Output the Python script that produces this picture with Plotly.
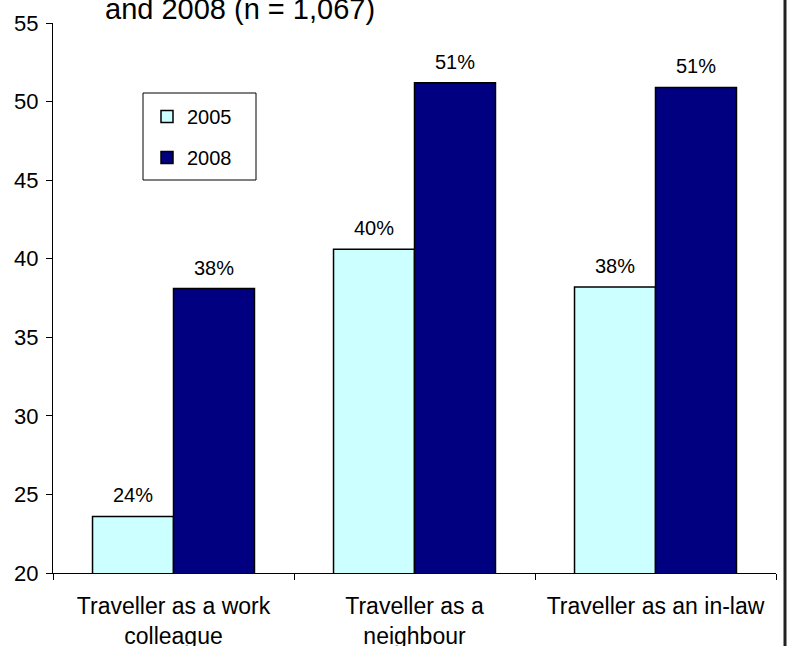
import plotly.graph_objects as go

categories = ["Traveller as a work<br>colleague", "Traveller as a<br>neighbour", "Traveller as an in-law"]
values_2005 = [23.6, 40.6, 38.2]
values_2008 = [38.1, 51.2, 50.9]
labels_2005 = ["24%", "40%", "38%"]
labels_2008 = ["38%", "51%", "51%"]
y_ticks = [20, 25, 30, 35, 40, 45, 50, 55]

FONT = "Arial, Liberation Sans, sans-serif"

# plot area in pixels: x 53..776, y 23..573
def px_x(p):
    return (p - 53) / 723

def px_y(p):
    return 1 - (p - 23) / 550

fig = go.Figure()
fig.add_trace(go.Bar(name="2005", x=categories, y=values_2005,
                     marker=dict(color="#CCFFFF", line=dict(color="black", width=1.5)),
                     legendgroup="a"))
fig.add_trace(go.Bar(name="2008", x=categories, y=values_2008,
                     marker=dict(color="#000080", line=dict(color="black", width=1.5)),
                     legendgroup="b"))

annotations = []
for cat, v, t in zip(categories, values_2005, labels_2005):
    annotations.append(dict(x=cat, y=v, text=t, xref="x", yref="y", showarrow=False,
                            xshift=-40.7, yshift=8, yanchor="bottom",
                            font=dict(family=FONT, size=20, color="black")))
for cat, v, t in zip(categories, values_2008, labels_2008):
    annotations.append(dict(x=cat, y=v, text=t, xref="x", yref="y", showarrow=False,
                            xshift=40.7, yshift=8, yanchor="bottom",
                            font=dict(family=FONT, size=20, color="black")))
annotations.append(dict(text="and 2008 (n = 1,067)", xref="paper", yref="paper",
                        x=px_x(103), y=px_y(27), xanchor="left", yanchor="bottom", showarrow=False,
                        font=dict(family=FONT, size=29, color="black")))

fig.update_layout(
    width=787, height=646,
    margin=dict(l=53, r=11, t=23, b=73, autoexpand=False),
    paper_bgcolor="white", plot_bgcolor="white",
    barmode="group", bargap=0.328, bargroupgap=0,
    font=dict(family=FONT, size=20, color="black"),
    showlegend=True,
    legend=dict(x=px_x(147), y=px_y(97), xanchor="left", yanchor="top",
                bgcolor="rgba(0,0,0,0)", borderwidth=0,
                font=dict(family=FONT, size=20, color="black"),
                itemwidth=30, tracegroupgap=12, traceorder="grouped"),
    annotations=annotations,
    shapes=[
        dict(type="line", xref="paper", yref="paper",
             x0=px_x(785), x1=px_x(785), y0=-1, y1=2,
             line=dict(color="#222222", width=3)),
        dict(type="rect", xref="paper", yref="paper",
             x0=px_x(143), x1=px_x(256), y0=px_y(180), y1=px_y(93),
             line=dict(color="black", width=1), fillcolor="white", layer="below"),
    ],
)
fig.update_xaxes(showline=True, linecolor="black", linewidth=1, ticks="outside",
                 tickson="boundaries", ticklen=6, tickcolor="black", showgrid=False,
                 automargin=False,
                 tickfont=dict(family=FONT, size=23, color="black"), ticklabelstandoff=12)
fig.update_yaxes(range=[20, 55], tickvals=y_ticks, showline=True, linecolor="black",
                 linewidth=1, ticks="outside", ticklen=6, tickcolor="black", showgrid=False,
                 automargin=False,
                 zeroline=False, tickfont=dict(family=FONT, size=22, color="black"),
                 ticklabelstandoff=3)

fig.write_html("out.html")
